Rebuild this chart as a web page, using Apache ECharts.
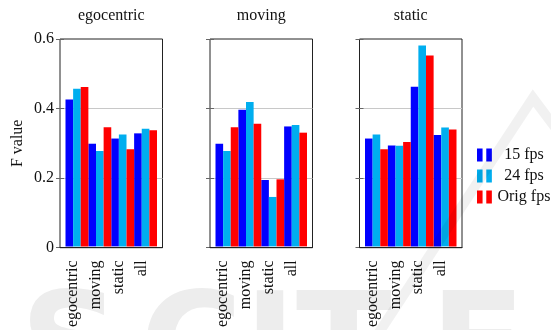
<!DOCTYPE html>
<html>
<head>
<meta charset="utf-8">
<script src="https://cdn.jsdelivr.net/npm/echarts@6/dist/echarts.min.js"></script>
<style>
  html, body { margin: 0; padding: 0; background: #fff; }
  #chart { width: 551px; height: 330px; }
</style>
</head>
<body>
<div id="chart"></div>
<script>
// Categories on each panel's x axis and the panel (training set) titles
const categories = ['egocentric', 'moving', 'static', 'all'];
const panelTitles = ['egocentric', 'moving', 'static'];
const seriesNames = ['15 fps', '24 fps', 'Orig fps'];
const yTicks = [0, 0.2, 0.4, 0.6];

// F values per panel, one array per frame rate
const egocentric15 = [0.425, 0.297, 0.312, 0.327];
const egocentric24 = [0.456, 0.276, 0.324, 0.340];
const egocentricOrig = [0.461, 0.345, 0.281, 0.336];

const moving15 = [0.297, 0.395, 0.192, 0.347];
const moving24 = [0.276, 0.418, 0.143, 0.351];
const movingOrig = [0.345, 0.355, 0.194, 0.329];

const static15 = [0.312, 0.292, 0.462, 0.322];
const static24 = [0.324, 0.291, 0.581, 0.344];
const staticOrig = [0.281, 0.302, 0.552, 0.338];

const panelData = [
  [egocentric15, egocentric24, egocentricOrig],
  [moving15, moving24, movingOrig],
  [static15, static24, staticOrig]
];

const colors = ['#0000ff', '#00aeef', '#ff0000'];
const serif = '"Liberation Serif", "DejaVu Serif", serif';
const textColor = '#111';

// Panel geometry
const panelLeft = [60, 210, 359.5];
const frameWidth = 102.5;
const inset = 5.5;
const plotTop = 39;
const plotHeight = 208.7;

const yMin = yTicks[0];
const yMax = yTicks[yTicks.length - 1];
const yStep = yTicks[1] - yTicks[0];

const grid = [], xAxis = [], yAxis = [], series = [];

panelTitles.forEach((title, p) => {
  const outer = grid.length;
  grid.push({
    left: panelLeft[p], top: plotTop, width: frameWidth, height: plotHeight,
    show: true, borderColor: '#222', borderWidth: 1, backgroundColor: 'transparent'
  });
  const inner = grid.length;
  grid.push({
    left: panelLeft[p] + inset, top: plotTop,
    width: frameWidth - 2 * inset, height: plotHeight
  });

  // frame axes: bottom line and the panel title on top
  xAxis.push({
    type: 'value', gridIndex: outer, min: 0, max: 1, position: 'bottom', z: 10,
    axisLine: { show: true, onZero: false, lineStyle: { color: '#222', width: 1 } },
    axisTick: { show: false }, axisLabel: { show: false }, splitLine: { show: false }
  });
  xAxis.push({
    type: 'value', gridIndex: outer, min: 0, max: 1, position: 'top',
    name: title, nameLocation: 'middle', nameGap: 15,
    nameTextStyle: { fontSize: 16, fontFamily: serif, color: textColor },
    axisLine: { show: false }, axisTick: { show: false },
    axisLabel: { show: false }, splitLine: { show: false }
  });
  const innerX = xAxis.length;
  xAxis.push({
    type: 'category', gridIndex: inner, data: categories,
    axisLine: { show: false }, axisTick: { show: false },
    axisLabel: {
      rotate: 90, margin: 14, verticalAlign: 'bottom', lineHeight: 8,
      fontSize: 16, fontFamily: serif, color: textColor
    }
  });

  // value axes: left with labels and grid lines, right with ticks only
  yAxis.push({
    type: 'value', gridIndex: outer, min: yMin, max: yMax, interval: yStep,
    name: p === 0 ? 'F value' : '', nameLocation: 'middle', nameRotate: 90, nameGap: 34,
    nameTextStyle: { fontSize: 16, fontFamily: serif, color: textColor },
    axisLine: { show: false },
    axisTick: { show: true, inside: true, length: 4, lineStyle: { color: '#666' } },
    axisLabel: { show: p === 0, margin: 6, fontSize: 16, fontFamily: serif, color: textColor },
    splitLine: { show: true, showMinLine: false, showMaxLine: false, lineStyle: { color: '#c8c8c8', width: 1 } }
  });
  yAxis.push({
    type: 'value', gridIndex: outer, position: 'right', min: yMin, max: yMax, interval: yStep,
    axisLine: { show: false },
    axisTick: { show: true, inside: true, length: 4, lineStyle: { color: '#666' } },
    axisLabel: { show: false }, splitLine: { show: false }
  });
  const innerY = yAxis.length;
  yAxis.push({ type: 'value', gridIndex: inner, min: yMin, max: yMax, show: false });

  seriesNames.forEach((name, s) => {
    series.push({
      type: 'bar', name: name, xAxisIndex: innerX, yAxisIndex: innerY,
      data: panelData[p][s], barGap: '0%', barCategoryGap: '0%',
      itemStyle: { color: colors[s] }, emphasis: { disabled: true }
    });
  });
});

// faint publisher mark behind the lower edge
const markLetters = [
  { ch: 'S', x: 20 }, { ch: 'C', x: 140 }, { ch: 'I', x: 244 },
  { ch: 'T', x: 296 }, { ch: 'E', x: 430 }
];
const graphic = markLetters.map(l => ({
  type: 'text', x: l.x, y: 287, z: -10,
  style: { text: l.ch, font: 'bold 140px "DejaVu Sans"', fill: '#ededed', verticalAlign: 'top' }
}));
graphic.push({
  type: 'polyline', z: 100, silent: true,
  shape: { points: [[560, 134], [533, 98], [378, 334]] },
  style: { stroke: 'rgba(0,0,0,0.055)', lineWidth: 10, fill: null, lineJoin: 'miter' }
});

const chart = echarts.init(document.getElementById('chart'), null, { renderer: 'canvas' });
chart.setOption({
  animation: false,
  backgroundColor: '#fff',
  grid, xAxis, yAxis, series, graphic,
  legend: {
    data: seriesNames, orient: 'vertical', left: 477, top: 147, padding: 0,
    itemWidth: 16, itemHeight: 13, itemGap: 5,
    icon: 'path://M0,0H6V14H0Z M10,0H16V14H10Z',
    formatter: name => '{r|' + name + '}',
    textStyle: {
      color: textColor, fontSize: 16, fontFamily: serif,
      rich: { r: { width: 53, align: 'center', fontSize: 16, fontFamily: serif, color: textColor } }
    }
  }
});
</script>
</body>
</html>
